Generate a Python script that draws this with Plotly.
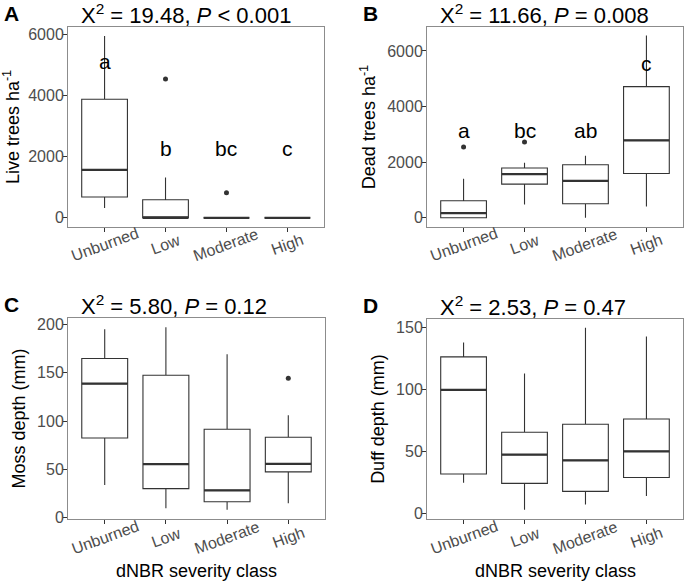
import plotly.graph_objects as go

categories = ["Unburned", "Low", "Moderate", "High"]

# Panel A: Live trees ha-1
live_q1 = [680, 0, 0, 0]
live_med = [1565, 0, 0, 0]
live_q3 = [3870, 590, 0, 0]
live_lo = [320, 0, 0, 0]
live_hi = [5940, 1320, 0, 0]
live_out_x = ["Low", "Moderate"]
live_out_y = [4535, 820]
live_letters = ["a", "b", "bc", "c"]
live_letter_y = [5100, 2250, 2250, 2250]

# Panel B: Dead trees ha-1
dead_q1 = [0, 1210, 505, 1595]
dead_med = [170, 1570, 1330, 2785]
dead_q3 = [612, 1790, 1908, 4715]
dead_lo = [0, 480, 0, 410]
dead_hi = [1405, 1980, 2230, 6550]
dead_out_x = ["Unburned", "Low"]
dead_out_y = [2545, 2725]
dead_letters = ["a", "bc", "ab", "c"]
dead_letter_y = [3150, 3150, 3150, 5550]

# Panel C: Moss depth (mm)
moss_q1 = [82.5, 30.2, 16.6, 47.5]
moss_med = [138.6, 55.5, 28.4, 55.8]
moss_q3 = [164.6, 147.3, 91.5, 83.2]
moss_lo = [34, 10, 8.3, 15.2]
moss_hi = [194.8, 196.9, 169, 106]
moss_out_x = ["High"]
moss_out_y = [144.2]

# Panel D: Duff depth (mm)
duff_q1 = [31.9, 24.4, 18.0, 29.2]
duff_med = [99.5, 47.5, 42.9, 50.2]
duff_q3 = [126.1, 65.5, 71.9, 76.2]
duff_lo = [25, 3.2, 7.5, 14.2]
duff_hi = [137.6, 112.7, 149.4, 142.5]
duff_out_x = []
duff_out_y = []

titles = ["X<sup>2</sup> = 19.48, <i>P</i> &lt; 0.001",
          "X<sup>2</sup> = 11.66, <i>P</i> = 0.008",
          "X<sup>2</sup> = 5.80, <i>P</i> = 0.12",
          "X<sup>2</sup> = 2.53, <i>P</i> = 0.47"]
ytitles = ["Live trees ha<sup>-1</sup>", "Dead trees ha<sup>-1</sup>",
           "Moss depth (mm)", "Duff depth (mm)"]
panel_labels = ["A", "B", "C", "D"]
xtitle = "dNBR severity class"

W, H = 685, 585
FONT = "Liberation Sans, Arial, sans-serif"
BOXCOL = "#333333"
FRAME = "#8c8c8c"
TICKCOL = "#4d4d4d"

# panel pixel boxes: (left, right, top, bottom)
px = [(68, 324, 27, 227), (427, 683, 27, 227), (68, 325, 318, 519), (427, 683, 319, 519)]
yranges = [(-300, 6230), (-330, 6860), (-1.2, 206.5), (-4.2, 156.5)]
ytickvals = [[0, 2000, 4000, 6000], [0, 2000, 4000, 6000],
             [0, 50, 100, 150, 200], [0, 50, 100, 150]]

panels = [
    (live_q1, live_med, live_q3, live_lo, live_hi, live_out_x, live_out_y),
    (dead_q1, dead_med, dead_q3, dead_lo, dead_hi, dead_out_x, dead_out_y),
    (moss_q1, moss_med, moss_q3, moss_lo, moss_hi, moss_out_x, moss_out_y),
    (duff_q1, duff_med, duff_q3, duff_lo, duff_hi, duff_out_x, duff_out_y),
]
letters = [(live_letters, live_letter_y), (dead_letters, dead_letter_y), None, None]

fig = go.Figure()
layout = dict(
    width=W, height=H, margin=dict(l=0, r=0, t=0, b=0, autoexpand=False),
    paper_bgcolor="white", plot_bgcolor="white", showlegend=False,
    font=dict(family=FONT, color="black"),
)
annotations = []
BW = 0.75
xpos = [i + 1 for i in range(len(categories))]

for k, (q1, med, q3, lo, hi, ox, oy) in enumerate(panels):
    sfx = "" if k == 0 else str(k + 1)
    xa, ya = "x" + sfx, "y" + sfx
    l, r, t, b = px[k]
    fig.add_trace(go.Box(
        x=xpos, q1=q1, median=med, q3=q3, lowerfence=lo, upperfence=hi,
        width=BW, whiskerwidth=0, fillcolor="white",
        line=dict(color=BOXCOL, width=1.1), boxpoints=False,
        xaxis=xa, yaxis=ya, hoverinfo="skip"))
    # thick medians (ggplot style)
    for i, m in enumerate(med):
        fig.add_trace(go.Scatter(
            x=[xpos[i] - BW / 2, xpos[i] + BW / 2], y=[m, m], mode="lines",
            line=dict(color=BOXCOL, width=2.2), xaxis=xa, yaxis=ya, hoverinfo="skip"))
    if ox:
        fig.add_trace(go.Scatter(
            x=[categories.index(c) + 1 for c in ox], y=oy, mode="markers",
            marker=dict(color=BOXCOL, size=5), xaxis=xa, yaxis=ya, hoverinfo="skip"))
    layout["xaxis" + sfx] = dict(
        domain=[l / W, r / W], range=[0.4, 4.6], anchor=ya, automargin=False,
        tickvals=xpos, showticklabels=False, ticks="outside", ticklen=4,
        tickcolor=BOXCOL, showgrid=False, zeroline=False,
        showline=True, mirror=True, linecolor=FRAME, linewidth=1)
    layout["yaxis" + sfx] = dict(
        domain=[1 - b / H, 1 - t / H], range=list(yranges[k]), anchor=xa,
        automargin=False,
        tickvals=ytickvals[k], ticks="outside", ticklen=4, tickcolor=BOXCOL,
        ticklabelstandoff=-4,
        tickfont=dict(size=16, color=TICKCOL, family=FONT),
        showgrid=False, zeroline=False,
        showline=True, mirror=True, linecolor=FRAME, linewidth=1,
        title=dict(text=ytitles[k], font=dict(size=18, color="black"), standoff=6))
    # x tick labels (rotated, centered under tick)
    for i, c in enumerate(categories):
        annotations.append(dict(
            x=xpos[i], y=0, xref=xa, yref=ya + " domain", text=c, showarrow=False,
            textangle=-20, xanchor="center", yanchor="middle", yshift=-18,
            font=dict(size=16, color=TICKCOL, family=FONT)))
    # title
    annotations.append(dict(
        x=(l + 11) / W, y=1 - (t - 13) / H, xref="paper", yref="paper",
        text=titles[k], showarrow=False, xanchor="left", yanchor="middle",
        font=dict(size=22, color="black", family=FONT)))
    # panel label
    annotations.append(dict(
        x=(2 if l < 200 else 361) / W, y=1 - (t - 14) / H, xref="paper", yref="paper",
        text="<b>" + panel_labels[k] + "</b>", showarrow=False,
        xanchor="left", yanchor="middle",
        font=dict(size=21, color="black", family=FONT)))
    # significance letters
    if letters[k]:
        labs, ly = letters[k]
        for i, s in enumerate(labs):
            annotations.append(dict(
                x=xpos[i], y=ly[i], xref=xa, yref=ya, text=s, showarrow=False,
                xanchor="center", yanchor="middle",
                font=dict(size=21, color="black", family=FONT)))
    # x-axis title for bottom panels
    if k >= 2:
        annotations.append(dict(
            x=(l + r) / 2 / W, y=1 - 571 / H, xref="paper", yref="paper",
            text=xtitle, showarrow=False, xanchor="center", yanchor="middle",
            font=dict(size=18, color="black", family=FONT)))

layout["annotations"] = annotations
fig.update_layout(**layout)
fig.write_html("out.html", config={"displayModeBar": False},
               post_script="document.body.style.margin='0';document.body.style.overflow='hidden';")
